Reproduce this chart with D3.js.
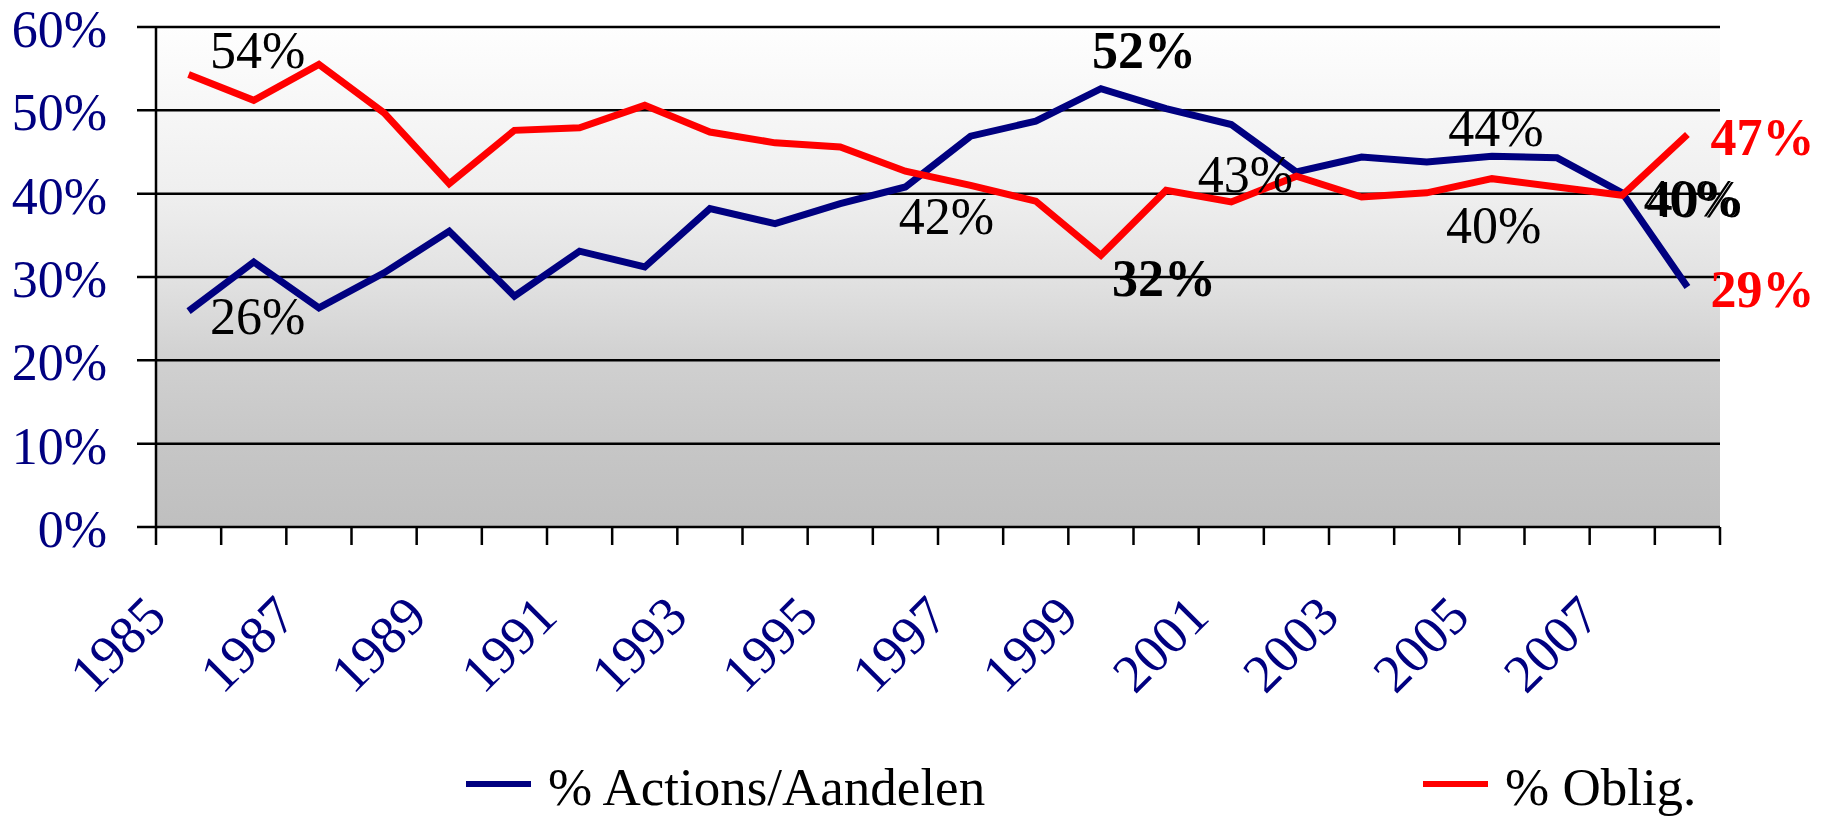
<!DOCTYPE html>
<html>
<head>
<meta charset="utf-8">
<script src="https://cdn.jsdelivr.net/npm/d3@7"></script>
<style>
  html, body { margin: 0; padding: 0; background: #fff; }
  svg { display: block; font-family: "Liberation Serif", "Times New Roman", serif; }
</style>
</head>
<body>
<svg id="chart" width="1835" height="817"></svg>
<script>
// years on the category axis
const years = d3.range(1985, 2009);
const yearLabels = years.filter(y => y % 2 === 1);

// % Actions/Aandelen
const actions = [25.9, 31.8, 26.3, 30.5, 35.5, 27.7, 33.1, 31.2, 38.2, 36.4, 38.8, 40.8,
	46.9, 48.7, 52.6, 50.2, 48.3, 42.6, 44.4, 43.8, 44.5, 44.3, 40.1, 28.8];
// % Oblig.
const oblig = [54.3, 51.2, 55.5, 49.7, 41.2, 47.6, 47.9, 50.6, 47.4, 46.1, 45.6, 42.7,
	41.0, 39.1, 32.6, 40.4, 39.0, 42.1, 39.6, 40.1, 41.8, 40.8, 39.8, 47.1];

const yTicks = [0, 10, 20, 30, 40, 50, 60];

// point labels: which series / year, the text shown, and offset from the point
// (the 2007 "40%" of both series sit on top of each other -> drawn once, doubled)
const pointLabels = [
	{ s: "oblig", year: 1985, text: "54%", dx: 69, dy: -7, bold: false, color: "#000" },
	{ s: "actions", year: 1985, text: "26%", dx: 69, dy: 23, bold: false, color: "#000" },
	{ s: "oblig", year: 1996, text: "42%", dx: 41, dy: 63, bold: false, color: "#000" },
	{ s: "actions", year: 1999, text: "52%", dx: 43, dy: -21, bold: true, color: "#000" },
	{ s: "oblig", year: 1999, text: "32%", dx: 63, dy: 41, bold: true, color: "#000" },
	{ s: "actions", year: 2002, text: "43%", dx: -51, dy: 20, bold: false, color: "#000" },
	{ s: "actions", year: 2005, text: "44%", dx: 4, dy: -10, bold: false, color: "#000" },
	{ s: "oblig", year: 2004, text: "40%", dx: 67, dy: 50, bold: false, color: "#000" },
	{ s: "actions", year: 2007, text: "40%", dx: 69, dy: 23, bold: false, color: "#000", doubled: true },
	{ s: "oblig", year: 2008, text: "47%", dx: 75, dy: 20, bold: true, color: "#ff0000" },
	{ s: "actions", year: 2008, text: "29%", dx: 75, dy: 20, bold: true, color: "#ff0000" }
];

const series = [
	{ key: "actions", name: "% Actions/Aandelen", values: actions, color: "#000080" },
	{ key: "oblig", name: "% Oblig.", values: oblig, color: "#ff0000" }
];

const margin = { top: 27, right: 115, bottom: 290, left: 156 },
	width = 1835 - margin.left - margin.right,
	height = 817 - margin.top - margin.bottom;

const svg = d3.select("#chart");

const x = d3.scaleBand()
	.domain(years)
	.range([margin.left, margin.left + width]);

const y = d3.scaleLinear()
	.domain([0, 60])
	.range([margin.top + height, margin.top]);

const cx = yr => x(yr) + x.bandwidth() / 2;

// plot background gradient
const grad = svg.append("defs").append("linearGradient")
	.attr("id", "bg")
	.attr("x1", 0).attr("y1", 0).attr("x2", 0).attr("y2", 1);
[[0, "#fefefe"], [0.33, "#efefef"], [0.5, "#e2e2e2"], [0.67, "#d0d0d0"], [0.84, "#c6c6c6"], [1, "#bfbfbf"]]
	.forEach(s => grad.append("stop").attr("offset", s[0]).attr("stop-color", s[1]));

svg.append("rect")
	.attr("x", margin.left)
	.attr("y", margin.top)
	.attr("width", width)
	.attr("height", height)
	.attr("fill", "url(#bg)");

// horizontal gridlines (with outer ticks)
svg.selectAll("line.grid")
	.data(yTicks).enter()
	.append("line")
	.attr("class", "grid")
	.attr("x1", margin.left - 19)
	.attr("x2", margin.left + width)
	.attr("y1", d => y(d))
	.attr("y2", d => y(d))
	.attr("stroke", "#000")
	.attr("stroke-width", 2.5);

// left axis line
svg.append("line")
	.attr("x1", margin.left).attr("x2", margin.left)
	.attr("y1", y(60)).attr("y2", y(0))
	.attr("stroke", "#000")
	.attr("stroke-width", 2.5);

// y tick labels
svg.selectAll("text.ylab")
	.data(yTicks).enter()
	.append("text")
	.attr("class", "ylab")
	.attr("x", 107)
	.attr("y", d => y(d) + 20)
	.attr("text-anchor", "end")
	.style("font-size", "52px")
	.style("fill", "#000080")
	.text(d => d + "%");

// category ticks at band edges
const edges = years.map(yr => x(yr)).concat([margin.left + width]);
svg.selectAll("line.xtick")
	.data(edges).enter()
	.append("line")
	.attr("class", "xtick")
	.attr("x1", d => d).attr("x2", d => d)
	.attr("y1", y(0)).attr("y2", y(0) + 18)
	.attr("stroke", "#000")
	.attr("stroke-width", 2.5);

// rotated year labels
svg.selectAll("text.xlab")
	.data(yearLabels).enter()
	.append("text")
	.attr("class", "xlab")
	.attr("text-anchor", "end")
	.attr("transform", d => `translate(${cx(d) - 20},${y(0) + 92})rotate(-45)`)
	.style("font-size", "54px")
	.style("fill", "#000080")
	.text(d => d);

// series lines
const line = d3.line()
	.x((d, i) => cx(years[i]))
	.y(d => y(d));

svg.selectAll("path.series")
	.data(series).enter()
	.append("path")
	.attr("class", "series")
	.attr("d", d => line(d.values))
	.attr("fill", "none")
	.attr("stroke", d => d.color)
	.attr("stroke-width", 7)
	.attr("stroke-linejoin", "miter");

// point labels
const byKey = { actions: actions, oblig: oblig };
svg.selectAll("text.plab")
	.data(pointLabels).enter()
	.append("text")
	.attr("class", "plab")
	.attr("x", d => cx(d.year) + d.dx)
	.attr("y", d => y(byKey[d.s][years.indexOf(d.year)]) + d.dy)
	.attr("text-anchor", "middle")
	.style("font-size", "52px")
	.style("font-weight", d => d.bold ? "bold" : "normal")
	.style("fill", d => d.color)
	.style("text-shadow", d => d.doubled ? "3px 1px 0 #000" : null)
	.text(d => d.text);

// legend
const legendX = [466, 1423];
const legend = svg.selectAll("g.legend")
	.data(series).enter()
	.append("g")
	.attr("class", "legend")
	.attr("transform", (d, i) => `translate(${legendX[i]},784)`);

legend.append("line")
	.attr("x1", 0).attr("x2", 65)
	.attr("y1", 0).attr("y2", 0)
	.attr("stroke", d => d.color)
	.attr("stroke-width", 6);

legend.append("text")
	.attr("x", 82)
	.attr("y", 21)
	.style("font-size", "53px")
	.style("fill", "#000")
	.text(d => d.name);
</script>
</body>
</html>
